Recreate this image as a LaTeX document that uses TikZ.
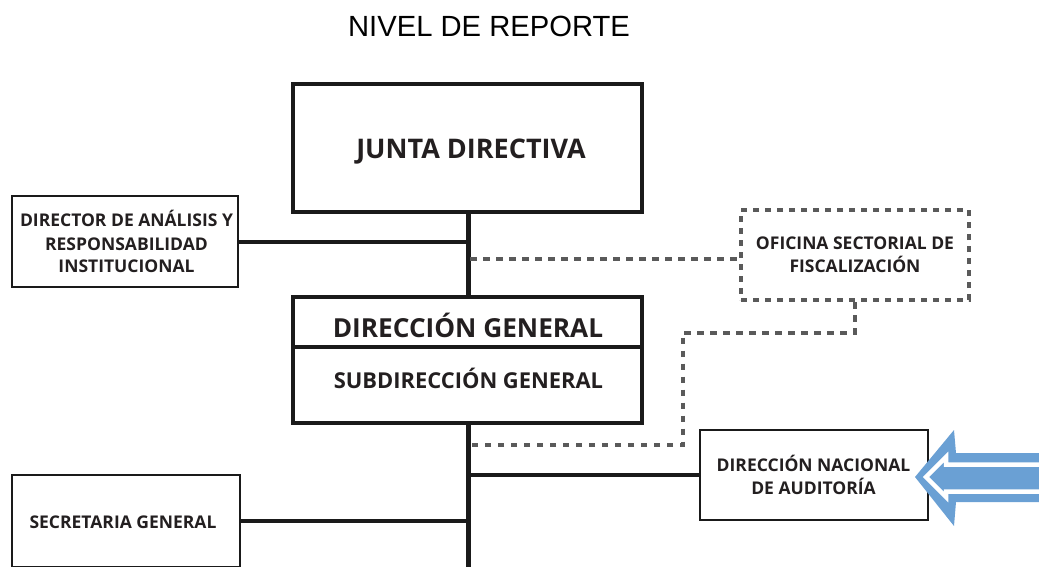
\documentclass[tikz,border=0pt]{standalone}
\usepackage{fontspec}
\setmainfont{Open Sans}
\newfontfamily\titlefont{Liberation Sans}
\definecolor{lc}{RGB}{26,26,26}
\definecolor{tc}{RGB}{35,31,32}
\definecolor{dc}{RGB}{90,90,90}
\definecolor{ab}{RGB}{106,160,212}
\begin{document}
\begin{tikzpicture}[x=1pt,y=-1pt,
  bigbox/.style={draw=lc, fill=white, line width=4pt, inner sep=0pt},
  smallbox/.style={draw=lc, fill=white, line width=2.4pt, inner sep=0pt},
  dotbox/.style={draw=dc, fill=white, line width=4pt, dash pattern=on 6pt off 6pt, inner sep=0pt},
  txt/.style={text=tc, inner sep=0pt, anchor=base, font=\bfseries\fontsize{17.5}{20}\selectfont},
  conn/.style={draw=lc, line width=4pt},
  trunkline/.style={draw=lc, line width=5pt},
  dotline/.style={draw=dc, line width=4pt, dash pattern=on 6.5pt off 6.5pt}]
\useasboundingbox (0,0) rectangle (1039,567);

% title
\node[inner sep=0pt, anchor=base, text=black, font=\titlefont\fontsize{29.2}{32}\selectfont] (title) at (489,36.7) {NIVEL DE REPORTE};

% bottom of trunk
\coordinate (bot) at (468,570);

% trunk
\draw[trunkline] (468,210) -- (bot);

% boxes
\node[bigbox, minimum width=349pt, minimum height=128pt] (junta) at (467.5,148) {};
\node[txt, font=\bfseries\fontsize{27}{30}\selectfont] (jt) at (471,158) {JUNTA DIRECTIVA};

\node[smallbox, minimum width=226pt, minimum height=91pt] (dir) at (125,241.5) {};
\node[txt] (d1) at (126.5,226.7) {DIRECTOR DE ANÁLISIS Y};
\node[txt] (d2) at (126.5,250) {RESPONSABILIDAD};
\node[txt] (d3) at (126.5,272.7) {INSTITUCIONAL};

% connectors to trunk
\draw[conn] (dir.east) -- (dir.east -| bot);

\coordinate (dj) at (470,259);
\node[dotbox, minimum width=228pt, minimum height=90pt] (ofi) at (855,255) {};
\node[txt] (o1) at (855,249) {OFICINA SECTORIAL DE};
\node[txt] (o2) at (855,272.5) {FISCALIZACIÓN};
\draw[dotline] (dj) -- (dj -| ofi.west);

% Direccion general box
\node[bigbox, minimum width=349pt, minimum height=126pt] (dg) at (467.5,360) {};
\draw[draw=lc, line width=4pt] (dg.west |- 0,346.7) -- (dg.east |- 0,346.7);
\node[txt, font=\bfseries\fontsize{26.2}{29}\selectfont] (dgt) at (468,337.5) {DIRECCIÓN GENERAL};
\node[txt, font=\bfseries\fontsize{21.9}{25}\selectfont] (sdt) at (468.5,388) {SUBDIRECCIÓN GENERAL};

% dotted path from oficina to trunk
\coordinate (p1) at (855,332.7);
\coordinate (p2) at (682.7,332.7);
\coordinate (p3) at (682.7,445);
\coordinate (p4) at (470,445);
\draw[dotline] (ofi.south) -- (p1) -- (p2) -- (p3) -- (p4);

% Direccion nacional
\node[smallbox, minimum width=228pt, minimum height=90pt] (dna) at (814,475) {};
\node[txt] (n1) at (813.5,471.7) {DIRECCIÓN NACIONAL};
\node[txt] (n2) at (813.5,494.5) {DE AUDITORÍA};
\draw[conn] (dna.west) -- (dna.west -| bot);

% Secretaria
\node[smallbox, minimum width=228pt, minimum height=92pt] (sec) at (126,521) {};
\node[txt] (s1) at (123,528) {SECRETARIA GENERAL};
\draw[conn] (sec.east) -- (sec.east -| bot);

% blue arrow
\fill[ab] (1040,453) -- (956,453) -- (954,430) -- (915,477) -- (954,526) -- (956,502) -- (1040,502) -- cycle;
\draw[white, line width=4.5pt, line join=miter] (1040,464.5) -- (946,464.5) -- (946,457) -- (926,477) -- (946,497) -- (946,491.5) -- (1040,491.5);
\end{tikzpicture}
\end{document}
